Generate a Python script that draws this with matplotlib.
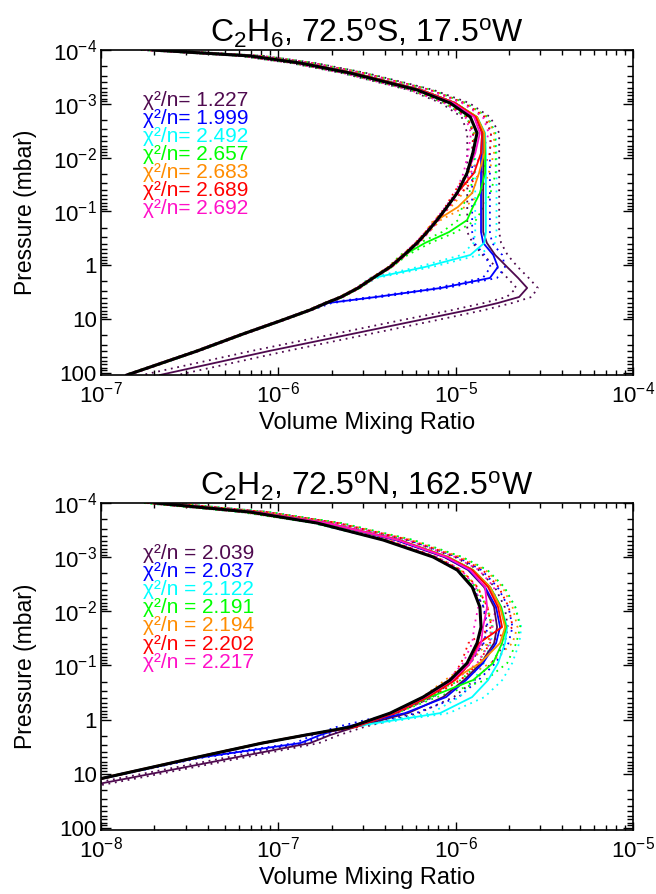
import numpy as np
import matplotlib
matplotlib.use('Agg')
import matplotlib.pyplot as plt
from matplotlib.ticker import FixedLocator, FixedFormatter, LogLocator, NullFormatter

plt.rcParams['font.family'] = ['Liberation Sans', 'DejaVu Sans']
plt.rcParams['mathtext.fontset'] = 'custom'
plt.rcParams['mathtext.rm'] = 'Liberation Sans'
plt.rcParams['mathtext.it'] = 'Liberation Sans:italic'
plt.rcParams['mathtext.bf'] = 'Liberation Sans:bold'

colors = ['#4f0a4f', '#0000ff', '#00ffff', '#00ff00', '#ff8c00', '#ff0000', '#ff10c8']

# ---- C2H6, 72.5S 17.5W  (pressure in mbar, vmr in ppm) ----
p_c2h6 = [1.00e-4, 1.29e-4, 1.75e-4, 2.68e-4, 5.53e-4, 9.66e-4, 1.76e-3, 3.49e-3, 8.20e-3,
          1.93e-2, 4.55e-2, 8.28e-2, 0.145, 0.242, 0.386, 0.646, 1.08, 1.73, 2.65, 3.90,
          5.05, 6.81, 10.9, 19.0, 39.4, 110.]
c2h6_prior = [0.197, 0.692, 1.33, 2.54, 6.06, 9.30, 12.1, 13.2, 12.5, 11.6, 10.2, 8.94, 7.86,
              6.90, 6.06, 5.12, 4.27, 3.42, 2.82, 2.26, 1.86, 1.51, 1.02, 0.632, 0.348, 0.140]
c2h6_purple = [0.197, 0.711, 1.38, 2.67, 6.38, 9.92, 13.0, 14.3, 14.3, 14.3, 14.3, 14.3, 14.3,
               14.3, 15.0, 16.7, 19.5, 22.5, 25.3, 22.8, 17.3, 11.8, 5.90, 2.60, 0.886, 0.215]
c2h6_blue = [0.197, 0.711, 1.38, 2.67, 6.38, 9.92, 13.0, 14.1, 13.9, 13.9, 13.9, 13.9, 13.9,
             13.9, 14.3, 16.3, 17.3, 15.6, 8.28, 3.56, 1.91, 1.51, 1.02, 0.632, 0.348, 0.140]
c2h6_cyan = [0.197, 0.711, 1.38, 2.67, 6.38, 9.92, 13.2, 14.65, 14.8, 14.8, 14.8, 14.8, 14.8,
             14.8, 14.5, 12.1, 6.72, 3.42, 2.82, 2.26, 1.86, 1.51, 1.02, 0.632, 0.348, 0.140]
c2h6_green = [0.197, 0.711, 1.38, 2.67, 6.38, 9.92, 13.2, 14.5, 14.65, 14.65, 13.7, 12.5, 11.6,
              9.18, 6.72, 5.12, 4.27, 3.42, 2.82, 2.26, 1.86, 1.51, 1.02, 0.632, 0.348, 0.140]
c2h6_orange = [0.197, 0.711, 1.38, 2.67, 6.38, 9.92, 13.2, 14.5, 14.5, 13.55, 12.4, 10.3, 7.86,
               6.90, 6.06, 5.12, 4.27, 3.42, 2.82, 2.26, 1.86, 1.51, 1.02, 0.632, 0.348, 0.140]
c2h6_red = [0.197, 0.711, 1.38, 2.67, 6.38, 9.92, 13.0, 14.1, 13.9, 12.7, 10.2, 8.94, 7.86,
            6.90, 6.06, 5.12, 4.27, 3.42, 2.82, 2.26, 1.86, 1.51, 1.02, 0.632, 0.348, 0.140]
c2h6_magenta = [0.197, 0.70, 1.36, 2.60, 6.22, 9.67, 12.7, 13.7, 12.9, 11.6, 10.2, 8.94, 7.86,
                6.90, 6.06, 5.12, 4.27, 3.42, 2.82, 2.26, 1.86, 1.51, 1.02, 0.632, 0.348, 0.140]
# errors in dex (log10 factor) for the dotted envelopes
c2h6_err = [
    [0.07, 0.07, 0.07, 0.07, 0.07, 0.08, 0.08, 0.09, 0.09, 0.09, 0.09, 0.09, 0.09,
     0.09, 0.08, 0.07, 0.06, 0.06, 0.06, 0.07, 0.08, 0.09, 0.10, 0.10, 0.10, 0.10],
    [0.05, 0.05, 0.05, 0.05, 0.05, 0.05, 0.05, 0.05, 0.05, 0.05, 0.05, 0.05, 0.05,
     0.05, 0.05, 0.05, 0.04, 0.04, 0.03, 0.03, 0.02, 0.01, 0.01, 0.01, 0.01, 0.01],
    [0.06, 0.06, 0.06, 0.06, 0.06, 0.06, 0.06, 0.06, 0.06, 0.06, 0.06, 0.06, 0.06,
     0.06, 0.06, 0.05, 0.04, 0.02, 0.01, 0.01, 0.01, 0.01, 0.01, 0.01, 0.01, 0.01],
    [0.06, 0.06, 0.06, 0.06, 0.06, 0.06, 0.06, 0.06, 0.06, 0.06, 0.06, 0.06, 0.05,
     0.04, 0.03, 0.02, 0.01, 0.01, 0.01, 0.01, 0.01, 0.01, 0.01, 0.01, 0.01, 0.01],
    [0.055, 0.055, 0.055, 0.055, 0.055, 0.055, 0.055, 0.055, 0.055, 0.055, 0.05, 0.04, 0.02,
     0.01, 0.01, 0.01, 0.01, 0.01, 0.01, 0.01, 0.01, 0.01, 0.01, 0.01, 0.01, 0.01],
    [0.05, 0.05, 0.05, 0.05, 0.05, 0.05, 0.05, 0.05, 0.05, 0.04, 0.02, 0.01, 0.01,
     0.01, 0.01, 0.01, 0.01, 0.01, 0.01, 0.01, 0.01, 0.01, 0.01, 0.01, 0.01, 0.01],
    [0.05, 0.05, 0.05, 0.05, 0.05, 0.05, 0.05, 0.05, 0.04, 0.02, 0.01, 0.01, 0.01,
     0.01, 0.01, 0.01, 0.01, 0.01, 0.01, 0.01, 0.01, 0.01, 0.01, 0.01, 0.01, 0.01],
]
c2h6_chi = ['1.227', '1.999', '2.492', '2.657', '2.683', '2.689', '2.692']

# ---- C2H2, 72.5N 162.5W ----
p_c2h2 = [1.00e-4, 1.47e-4, 2.34e-4, 4.83e-4, 9.95e-4, 1.73e-3, 3.57e-3, 8.36e-3, 1.96e-2,
          3.87e-2, 9.06e-2, 0.187, 0.385, 0.762, 1.38, 1.94, 2.73, 5.17, 12.1, 24.9]
c2h2_prior = [0.0202, 0.0692, 0.165, 0.390, 0.746, 1.02, 1.24, 1.37, 1.39, 1.32, 1.16, 0.930,
              0.655, 0.427, 0.254, 0.142, 0.0809, 0.0330, 0.0103, 0.0040]
c2h2_purple = [0.0210, 0.0739, 0.186, 0.461, 0.860, 1.175, 1.446, 1.647, 1.712, 1.647, 1.391,
               1.115, 0.849, 0.539, 0.271, 0.196, 0.151, 0.0548, 0.0144, 0.0045]
c2h2_blue = [0.0210, 0.0739, 0.186, 0.461, 0.872, 1.190, 1.465, 1.690, 1.780, 1.690, 1.427,
             1.145, 0.883, 0.518, 0.238, 0.172, 0.133, 0.0343, 0.0103, 0.0040]
c2h2_cyan = [0.0210, 0.0739, 0.188, 0.480, 0.906, 1.254, 1.563, 1.804, 1.950, 1.899, 1.734,
             1.523, 1.238, 0.817, 0.254, 0.142, 0.0809, 0.0330, 0.0103, 0.0040]
c2h2_green = [0.0210, 0.0739, 0.188, 0.480, 0.906, 1.254, 1.563, 1.804, 1.924, 1.827, 1.625,
              1.254, 0.717, 0.444, 0.260, 0.142, 0.0809, 0.0330, 0.0103, 0.0040]
c2h2_orange = [0.0210, 0.0739, 0.188, 0.480, 0.906, 1.254, 1.563, 1.780, 1.899, 1.780, 1.373,
               0.954, 0.681, 0.444, 0.264, 0.142, 0.0809, 0.0330, 0.0103, 0.0040]
c2h2_red = [0.0210, 0.0739, 0.188, 0.480, 0.894, 1.238, 1.523, 1.734, 1.827, 1.355, 1.206,
            0.992, 0.699, 0.455, 0.271, 0.142, 0.0809, 0.0330, 0.0103, 0.0040]
c2h2_magenta = [0.0210, 0.0739, 0.188, 0.473, 0.883, 1.206, 1.465, 1.504, 1.427, 1.391, 1.206,
                0.954, 0.672, 0.438, 0.260, 0.142, 0.0809, 0.0330, 0.0103, 0.0040]
c2h2_err = [
    [0.06, 0.06, 0.06, 0.06, 0.06, 0.06, 0.06, 0.06, 0.06, 0.06, 0.06, 0.06, 0.06, 0.06,
     0.05, 0.05, 0.05, 0.05, 0.05, 0.05],
    [0.07, 0.07, 0.07, 0.07, 0.07, 0.07, 0.07, 0.07, 0.07, 0.07, 0.07, 0.07, 0.07, 0.06,
     0.05, 0.04, 0.03, 0.02, 0.01, 0.01],
    [0.08, 0.08, 0.08, 0.08, 0.08, 0.08, 0.08, 0.08, 0.08, 0.08, 0.08, 0.08, 0.07, 0.05,
     0.02, 0.01, 0.01, 0.01, 0.01, 0.01],
    [0.08, 0.08, 0.08, 0.08, 0.08, 0.08, 0.08, 0.08, 0.08, 0.08, 0.08, 0.07, 0.04, 0.02,
     0.01, 0.01, 0.01, 0.01, 0.01, 0.01],
    [0.07, 0.07, 0.07, 0.07, 0.07, 0.07, 0.07, 0.07, 0.07, 0.07, 0.06, 0.04, 0.02, 0.01,
     0.01, 0.01, 0.01, 0.01, 0.01, 0.01],
    [0.06, 0.06, 0.06, 0.06, 0.06, 0.06, 0.06, 0.06, 0.06, 0.06, 0.05, 0.03, 0.02, 0.01,
     0.01, 0.01, 0.01, 0.01, 0.01, 0.01],
    [0.05, 0.05, 0.05, 0.05, 0.05, 0.05, 0.05, 0.05, 0.05, 0.05, 0.04, 0.02, 0.01, 0.01,
     0.01, 0.01, 0.01, 0.01, 0.01, 0.01],
]
c2h2_chi = ['2.039', '2.037', '2.122', '2.191', '2.194', '2.202', '2.217']

p_ticks = [1e-4, 1e-3, 1e-2, 1e-1, 1, 10, 100]
p_labels = ['10$^{-4}$', '10$^{-3}$', '10$^{-2}$', '10$^{-1}$', '1', '10', '100']


def panel(ax, p, prior, fits, errs, chi, sep, title, xdec):
    p = np.array(p)
    for v, e, c in zip(fits, errs, colors):
        v = np.array(v) * 1e-6
        e = np.array(e)
        ax.plot(v * 10 ** e, p, color=c, lw=1.3, ls=(0, (1, 2.6)))
        ax.plot(v * 10 ** -e, p, color=c, lw=1.3, ls=(0, (1, 2.6)))
    for v, c in zip(fits, colors):
        ax.plot(np.array(v) * 1e-6, p, color=c, lw=1.3)
    ax.plot(np.array(prior) * 1e-6, p, color='k', lw=2.2)

    ax.set_xscale('log')
    ax.set_yscale('log')
    ax.set_xlim(10.0 ** xdec[0], 10.0 ** xdec[-1])
    ax.set_ylim(110, 1e-4)
    ax.set_xticks([10.0 ** d for d in xdec])
    ax.set_xticklabels(['10$^{%d}$' % d for d in xdec])
    ax.xaxis.set_minor_locator(LogLocator(base=10, subs=np.arange(2, 10)))
    ax.xaxis.set_minor_formatter(NullFormatter())
    ax.yaxis.set_major_locator(FixedLocator(p_ticks))
    ax.yaxis.set_major_formatter(FixedFormatter(p_labels))
    ax.yaxis.set_minor_locator(LogLocator(base=10, subs=np.arange(2, 10), numticks=20))
    ax.yaxis.set_minor_formatter(NullFormatter())
    ax.tick_params(which='both', direction='in', top=True, right=True, width=1.0,
                   labelsize=16)
    ax.tick_params(axis='x', which='major', length=6, pad=5)
    ax.tick_params(axis='x', which='minor', length=3.5)
    ax.tick_params(axis='y', which='major', length=7.5, pad=3)
    ax.tick_params(axis='y', which='minor', length=4)
    for s in ax.spines.values():
        s.set_linewidth(1.2)

    ax.set_title(title, fontsize=23, pad=5)
    ax.set_xlabel('Volume Mixing Ratio', fontsize=17, labelpad=3)
    ax.set_ylabel('Pressure (mbar)', fontsize=16.5, labelpad=11)

    for i, (txt, c) in enumerate(zip(chi, colors)):
        ax.text(0.079, 0.846 - i * 0.0555, '\u03c7\u00b2/n' + sep + txt, color=c,
                fontsize=15, transform=ax.transAxes, va='center', ha='left')


fig = plt.figure(figsize=(6.56, 8.94), dpi=100)
ax1 = fig.add_axes([101 / 656, 1 - 375 / 894, 532 / 656, 325 / 894])
ax2 = fig.add_axes([101 / 656, 1 - 830 / 894, 532 / 656, 327 / 894])

panel(ax1, p_c2h6, c2h6_prior,
      [c2h6_purple, c2h6_blue, c2h6_cyan, c2h6_green, c2h6_orange, c2h6_red, c2h6_magenta],
      c2h6_err, c2h6_chi, '= ',
      r'C$_2$H$_6$, 72.5$^{\rm o}$S, 17.5$^{\rm o}$W', [-7, -6, -5, -4])
panel(ax2, p_c2h2, c2h2_prior,
      [c2h2_purple, c2h2_blue, c2h2_cyan, c2h2_green, c2h2_orange, c2h2_red, c2h2_magenta],
      c2h2_err, c2h2_chi, ' = ',
      r'C$_2$H$_2$, 72.5$^{\rm o}$N, 162.5$^{\rm o}$W', [-8, -7, -6, -5])

fig.savefig('out.png', dpi=100)
